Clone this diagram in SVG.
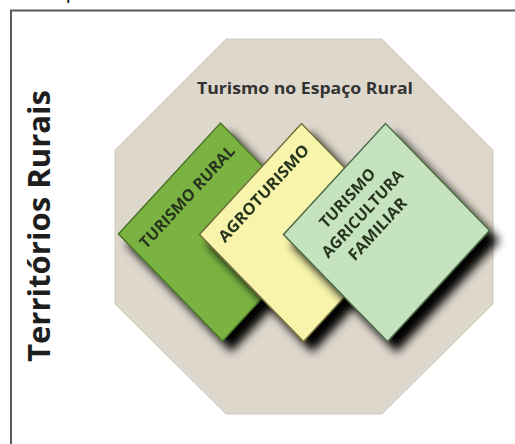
<svg xmlns="http://www.w3.org/2000/svg" width="515" height="444" viewBox="0 0 515 444">
  <style>
    .frame { fill: none; stroke: #5a5a5a; stroke-width: 2; }
    .oct { fill: #ded7cc; stroke: #d0c9be; stroke-width: 1; }
    .title { font-family: "Open Sans", "Liberation Sans", sans-serif; font-weight: bold; font-size: 16.5px; fill: #333333; }
    .side { font-family: "Open Sans", "Liberation Sans", sans-serif; font-weight: bold; font-size: 31px; fill: #1e1e1e; }
    .lbl { font-family: "Open Sans", "Liberation Sans", sans-serif; font-weight: bold; font-size: 16px; fill: #26341e; }
    .sq-green { fill: #7ab343; stroke: #4a7428; stroke-width: 1.5; }
    .sq-yellow { fill: #f8f4ab; stroke: #6e6c3a; stroke-width: 1.5; }
    .sq-light { fill: #c6e3bf; stroke: #4b6a44; stroke-width: 1.5; }
  </style>
  <defs>
    <filter id="shadow" x="-20%" y="-20%" width="150%" height="150%">
      <feGaussianBlur in="SourceAlpha" stdDeviation="5" result="blur"/>
      <feOffset in="blur" dx="9" dy="10" result="off"/>
      <feComponentTransfer in="off" result="shad">
        <feFuncA type="linear" slope="1"/>
      </feComponentTransfer>
      <feMerge>
        <feMergeNode in="shad"/>
        <feMergeNode in="SourceGraphic"/>
      </feMerge>
    </filter>
  </defs>

  <rect x="0" y="0" width="515" height="444" fill="#ffffff"/>

  <!-- cut-off text fragment at top -->
  <text x="66" y="-1" style="font-family: 'Liberation Sans', sans-serif; font-size: 20px; fill: #111;">p</text>

  <!-- frame -->
  <path class="frame" d="M11 444 V10.5 H515"/>

  <!-- side label -->
  <g id="territorios">
    <text class="side" transform="translate(49.5,362) rotate(-90)" textLength="272" lengthAdjust="spacingAndGlyphs">Territórios Rurais</text>
  </g>

  <!-- octagon -->
  <g id="espaco-rural">
    <polygon class="oct" points="226,39 382,39 493,150 493,304 382,414 226,414 115,304 115,150"/>
    <text class="title" x="197" y="93.5" textLength="216" lengthAdjust="spacingAndGlyphs">Turismo no Espaço Rural</text>
  </g>

  <!-- Turismo Rural -->
  <g id="turismo-rural" filter="url(#shadow)">
    <g transform="matrix(0.68,-0.74,0.6933,0.7133,118.5,234)">
      <rect class="sq-green" x="0" y="0" width="150" height="150"/>
      <text class="lbl" x="9" y="31" textLength="132" lengthAdjust="spacingAndGlyphs">TURISMO RURAL</text>
    </g>
  </g>

  <!-- Agroturismo -->
  <g id="agroturismo" filter="url(#shadow)">
    <g transform="matrix(0.68,-0.74,0.6933,0.7133,199.5,234.5)">
      <rect class="sq-yellow" x="0" y="0" width="150" height="150"/>
      <text class="lbl" x="12" y="25" textLength="125" lengthAdjust="spacingAndGlyphs">AGROTURISMO</text>
    </g>
  </g>

  <!-- Turismo Agricultura Familiar -->
  <g id="turismo-agricultura-familiar" filter="url(#shadow)">
    <g transform="matrix(0.68,-0.74,0.6933,0.7133,283.5,234.5)">
      <rect class="sq-light" x="0" y="0" width="150" height="150"/>
      <text class="lbl" text-anchor="middle" x="71" y="28" textLength="74" lengthAdjust="spacingAndGlyphs">TURISMO</text>
      <text class="lbl" text-anchor="middle" x="71" y="50" textLength="112" lengthAdjust="spacingAndGlyphs">AGRICULTURA</text>
      <text class="lbl" text-anchor="middle" x="71" y="71.5" textLength="78" lengthAdjust="spacingAndGlyphs">FAMILIAR</text>
    </g>
  </g>

  <g id="connectors"/>
</svg>
